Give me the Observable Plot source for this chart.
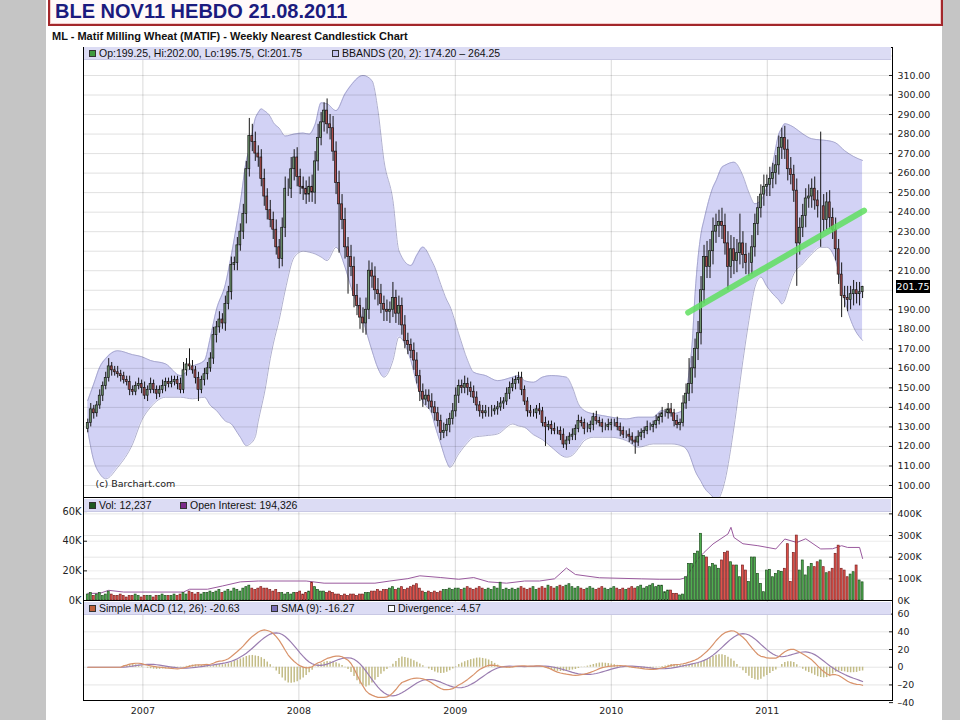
<!DOCTYPE html>
<html><head><meta charset="utf-8">
<script src="https://cdn.jsdelivr.net/npm/d3@7"></script>
<script src="https://cdn.jsdelivr.net/npm/@observablehq/plot@0.6"></script>
<style>
body{margin:0;background:#fff;}
#page{position:relative;width:960px;height:720px;overflow:hidden;background:#fff;font-family:"Liberation Sans",Arial,sans-serif;}
.abs{position:absolute;}
</style></head>
<body><div id="page"></div>
<script>
// ---------- DATA ----------
const titleText = "BLE NOV11 HEBDO 21.08.2011";
const subtitleText = "ML - Matif Milling Wheat (MATIF) - Weekly Nearest Candlestick Chart";
const firstWeek = Date.UTC(2006, 7, 25);        // first weekly candle
const firstOpen = 129;
// weekly closes, one per week
const closes = [
132,139,137,141,146,151,155,161,159,158,157,156,154,153,149,148,151,152,150,146,
149,152,149,147,149,151,153,152,153,154,152,149,159,162,161,159,155,149,154,157,
160,165,177,181,185,183,193,199,213,214,223,230,239,262,279,276,270,268,257,248,
241,236,231,222,216,232,252,252,262,268,258,253,252,249,253,250,266,278,286,292,
285,283,271,255,244,236,222,217,212,197,192,186,183,190,210,207,200,198,193,190,
189,190,196,188,192,182,174,172,169,164,156,148,144,146,143,140,137,133,127,128,
131,134,138,146,151,150,152,150,148,145,141,138,137,138,138,138,139,140,142,143,
147,150,152,154,155,149,143,138,137,137,139,138,132,130,131,129,128,128,126,121,
123,125,126,129,133,132,129,129,131,135,133,132,130,130,131,132,132,130,128,126,
126,125,123,122,125,127,128,130,130,131,133,135,137,137,139,137,133,131,132,142,
147,152,160,170,178,200,217,212,220,230,233,235,233,224,212,221,215,219,224,218,
214,214,222,234,242,249,253,254,257,260,264,273,278,272,262,259,251,224,232,238,
247,248,252,246,243,243,236,245,237,231,221,208,197,196,195,198,200,198,199,201.75];
// wick lengths above / below the body
const wickUp = [
2,3,2,2,3,2,3,4,2,2,3,2,2,2,3,2,2,3,2,3, 2,3,2,2,2,3,2,2,3,2,2,3,4,3,8,3,2,3,2,3,
3,3,4,3,4,3,4,3,4,3,4,4,5,4,9,6,5,4,4,5, 4,5,4,5,4,5,6,5,6,4,5,4,5,4,5,6,5,7,5,4,
6,5,6,5,6,5,6,5,6,5,6,4,5,6,5,4,5,6,5,4, 5,4,8,4,5,4,5,4,3,4,4,3,4,3,3,4,3,3,3,4,
3,3,4,4,3,3,4,3,3,3,3,2,3,3,2,3,2,3,3,2, 3,3,3,2,3,3,2,2,3,2,2,3,2,3,2,2,3,2,2,3,
2,2,3,2,3,2,2,3,2,2,3,2,2,2,3,2,2,3,2,2, 2,3,2,2,3,2,2,3,2,2,3,2,3,2,3,3,2,3,2,4,
5,13,6,5,6,7,6,8,6,7,6,6,7,6,6,7,6,7,15,6, 6,5,6,5,6,5,6,5,6,5,5,6,5,6,5,6,5,6,5,6,
5,6,5,6,5,38,6,5,6,5,6,5,6,5,6,4,5,4,5,0.25];
const wickDown = [
2,2,3,2,2,3,2,2,3,2,2,3,2,2,3,2,2,2,3,2, 3,2,2,3,2,2,3,2,2,2,3,2,2,3,2,2,3,6,2,3,
3,2,3,4,3,3,4,3,4,3,4,3,4,5,4,5,4,5,4,5, 5,4,5,4,5,4,5,4,5,6,5,4,6,5,4,5,6,5,4,5,
5,6,5,6,25,5,6,19,5,6,5,6,5,6,5,6,5,6,5,6, 5,6,4,5,6,5,4,5,4,5,4,5,4,3,4,3,4,3,4,3,
3,4,3,3,4,3,3,4,3,3,3,3,3,2,3,3,2,3,2,3, 2,3,2,3,2,3,2,3,2,2,3,2,2,10,2,3,2,2,3,2,
3,2,2,3,2,2,3,2,2,3,2,2,3,2,2,3,2,2,3,2, 2,3,2,6,2,2,3,2,2,3,2,2,3,2,3,2,3,2,3,2,
3,4,5,5,6,6,7,6,6,7,6,6,7,6,12,6,7,6,6,7, 6,7,6,5,6,5,6,5,6,5,6,5,6,5,6,5,6,22,6,5,
6,5,6,5,6,21,6,5,6,5,6,5,11,5,6,5,6,5,6,3.25];
// weekly volume, thousands of contracts
const volumeK = [
4,5,3,4,5,3,4,6,4,3,3,4,3,2,3,3,4,3,2,3, 3,3,2,3,3,4,3,3,3,4,3,4,5,4,6,5,4,5,4,5,
5,6,5,6,7,5,6,7,6,8,7,6,8,9,10,8,7,8,9,8, 8,7,6,7,5,5,4,5,4,5,5,6,4,5,6,12,9,7,6,6,
5,6,5,4,4,3,4,3,4,4,3,4,4,5,5,6,6,7,6,7, 7,8,9,7,8,9,7,8,9,10,11,8,6,5,6,5,6,5,6,7,
7,8,7,8,8,7,8,9,8,7,8,9,8,7,8,7,9,8,12,7, 8,7,8,7,8,9,8,7,8,9,7,8,9,8,10,9,8,9,10,9,
10,11,9,8,9,8,7,8,9,8,7,8,9,8,7,8,9,8,7,8, 7,8,9,8,9,10,8,9,10,11,9,10,10,5.6,6.7,6.7,4.5,4.5,3.4,4,
15.7,24.7,24.7,31.5,33,45,30,29,22.5,24.7,23.6,21.4,27,32,33,25.8,23.6,23.6,15.7,23.6,
20.2,12.4,29,29,18,11.2,5.6,20.2,20.7,15.7,18,19.8,19.3,21.4,38,12.4,32,43.8,20.2,27,
16.9,22.5,24.7,22.5,25.8,27,22.5,18.4,19.1,21.4,31.5,37,21.4,20.2,15.7,17.5,19.1,23.6,13.5,12.237];
// open interest, thousands (week number, value)
const oiWeek = [0,4,7,12,21,32,34,40,45,51,57,73,79,96,101,107,111,118,124,129,134,140,146,151,156,160,163,171,185,191,198,200,204,206,209,214,215,216,219,224,230,233,237,240,245,249,252,254,258,259];
const oiK    = [33,33,47,39,39,39,52,52,67,86,90,90,80,80,90,101,114,106,98,106,86,80,90,90,100,150,120,105,100,98,98,106,193,222,261,307,338,291,262,253,238,284,268,285,238,239,253,245,245,194];
// Bollinger band (20, 2)
const bandWeek = [0,2,4,6,10,15,18,21,26,31,35,39,41,43,46,48,50,51,53,54,56,57,58,59,61,62,64,66,69,72,74,76,78,80,83,86,88,92,95,97,99,102,104,108,110,112,115,116,118,120,121,124,127,129,133,137,142,144,146,149,152,155,160,162,164,166,169,172,175,180,184,189,192,195,199,201,202,203,205,206,209,210,212,213,216,219,221,223,225,227,229,231,232,233,234,236,239,242,245,247,250,253,256,259];
const bandUpper = [143.5,152,160.6,165,169,167,166,164,162.3,156.3,161,164,176,190,203,218,235.7,245,266.4,272,288,291,292.9,292,289,286,283,279,280,280.5,280,285,296,295.5,292,300.6,305,310,307.4,292.1,266.5,246,220.3,212.7,218,222.1,215,211.8,203,195,192,177.7,164,158,156.3,153.7,155.5,156.3,153.7,152.9,155.5,156.3,155.5,150.3,141.8,138.4,136.7,135.8,135,134.1,135,135,138.4,136.7,138.4,158,172,198,229,236,252.8,256,263,264,265.6,258.6,250,244.3,246,253,265,280,283,285.3,285,283.5,280.1,277.6,277,276.7,275.5,271.5,268.5,266.5];
const bandLower = [128.1,112.8,106,103.4,109.3,121.3,133.3,140.1,145.2,145.2,144.4,145.2,141,138.4,133,131.5,127,124.7,120.4,121,125,133,140,146.9,165,172.5,185,200,216.9,220,219.5,218.6,217,215.2,222,211.8,201.6,184.5,169.1,160,155.5,164,176,164,152,143,136.7,131,121.3,112,109.3,116.2,122,124.7,125.5,126.4,131.5,130.5,129.8,126,123.5,119.6,114.5,115.5,119,123,124.7,124.7,124.7,123,119.6,121.3,121.3,121.3,120,116.2,112,107.6,102,99.1,94,92,97,102.5,129.8,164,184.5,201.6,206.7,202,198.1,195,193,195,199.8,208.4,213.5,218.6,222,222,215.2,194.7,181.1,174.3];
// hand-drawn green trend line
const trendWeek = [200.7, 259.5];
const trendPrice = [188.6, 240.8];
// axes
const priceTicks = [100,110,120,130,140,150,160,170,180,190,200,210,220,230,240,250,260,270,280,290,300,310];
const volTicks = [0,20,40,60];
const oiTicks = [0,100,200,300,400];
const macdTicks = [-40,-20,0,20,40,60];
const yearTicks = [2007,2008,2009,2010,2011];
const legendMain = ["Op:199.25, Hi:202.00, Lo:195.75, Cl:201.75", "BBANDS (20, 2): 174.20 \u2013 264.25"];
const legendVol = ["Vol: 12,237", "Open Interest: 194,326"];
const legendMacd = ["Simple MACD (12, 26): -20.63", "SMA (9): -16.27", "Divergence: -4.57"];

// ---------- BUILD ----------
const DAY = 864e5;
const weekDate = w => new Date(firstWeek + w * 7 * DAY);
const xDomain = [new Date(Date.UTC(2006, 7, 15)), new Date(Date.UTC(2011, 9, 21))];
const years = yearTicks.map(y => new Date(Date.UTC(y, 0, 1)));

const candles = closes.map((c, i) => {
  const o = i ? closes[i - 1] : firstOpen;
  const hi = Math.max(o, c), lo = Math.min(o, c);
  return {date: weekDate(i), open: o, close: c, bodyHi: hi, bodyLo: lo,
          high: hi + wickUp[i], low: lo - wickDown[i], up: c >= o, vol: volumeK[i]};
});
const bands = bandWeek.map((w, i) => ({date: weekDate(w), upper: bandUpper[i], lower: bandLower[i]}));
const oi = oiWeek.map((w, i) => ({date: weekDate(w), v: oiK[i]}));
const trend = trendWeek.map((w, i) => ({date: weekDate(w), p: trendPrice[i]}));

const sma = (arr, n, i) => { const s = Math.max(0, i - n + 1); let t = 0; for (let k = s; k <= i; k++) t += arr[k]; return t / (i - s + 1); };
const macdLine = closes.map((_, i) => sma(closes, 12, i) - sma(closes, 26, i));
const macdData = macdLine.map((m, i) => { const s = sma(macdLine, 9, i); return {date: weekDate(i), macd: m, signal: s, div: m - s}; });

const page = document.getElementById("page");
function addDiv(style, text) { const d = document.createElement("div"); d.className = "abs"; d.style.cssText = style; if (text != null) d.textContent = text; page.appendChild(d); return d; }
function place(el, top) { el.style.position = "absolute"; el.style.left = "0px"; el.style.top = top + "px"; page.appendChild(el); }

const axisFont = "DejaVu Sans, sans-serif";
const common = {width: 960, marginLeft: 83, marginRight: 68, marginTop: 0,
  x: {type: "utc", domain: xDomain, axis: null},
  style: {background: "transparent", fontFamily: axisFont, color: "#222", overflow: "visible"}};
const half = 2.3 * DAY;

// page decoration
addDiv("left:0;top:0;width:46px;height:720px;background:#c5c5c5");
addDiv("left:942px;top:0;width:18px;height:720px;background:#c5c5c5");
addDiv("left:48px;top:-20px;width:891px;height:42px;border:2px solid #a3272b;background:#fff9f9;box-shadow:inset 0 0 0 1px #f2caca");
addDiv("left:55px;top:1px;font:bold 20px 'Liberation Sans',Arial,sans-serif;line-height:20px;color:#1b1b7e;white-space:nowrap", titleText);
addDiv("left:52px;top:31px;font:bold 11px 'Liberation Sans',Arial,sans-serif;line-height:11px;color:#111;white-space:nowrap", subtitleText);

// main price panel
const main = Plot.plot({...common, height: 450, marginBottom: 0,
  y: {domain: [93.85, 324.34], axis: null},
  marks: [
    Plot.areaY(bands, {x: "date", y1: "lower", y2: "upper", fill: "#d2d2f5", curve: "monotone-x", clip: true}),
    Plot.line(bands, {x: "date", y: "upper", stroke: "#9c9cc4", strokeWidth: 0.8, curve: "monotone-x", clip: true}),
    Plot.line(bands, {x: "date", y: "lower", stroke: "#9c9cc4", strokeWidth: 0.8, curve: "monotone-x", clip: true}),
    Plot.ruleY(priceTicks.concat([320]), {stroke: "#000", strokeOpacity: 0.12}),
    Plot.ruleX(years, {stroke: "#000", strokeOpacity: 0.15}),
    Plot.ruleX(candles, {x: "date", y1: "low", y2: "high", stroke: "#151515", strokeWidth: 1}),
    Plot.rect(candles, {x1: d => new Date(+d.date - half), x2: d => new Date(+d.date + half),
      y1: "bodyLo", y2: "bodyHi", fill: d => d.up ? "#6f946f" : "#a84a4a", stroke: "#151515", strokeWidth: 0.7}),
    Plot.line(trend, {x: "date", y: "p", stroke: "#5fdf5f", strokeWidth: 6, strokeOpacity: 0.85, strokeLinecap: "round"}),
    Plot.axisY(priceTicks.filter(t => t !== 200), {anchor: "right", label: null, tickFormat: d => d.toFixed(2), tickSize: 4, tickPadding: 5, dx: -4, fontSize: 9.4}),
    Plot.text(["(c) Barchart.com"], {frameAnchor: "bottom-left", dx: 12, dy: -11, textAnchor: "start", fontSize: 9.5, fill: "#222"}),
    Plot.frame({stroke: "#000"})
  ]});
place(main, 47);

// open interest (right axis) + volume (left axis)
const oiPlot = Plot.plot({...common, height: 103, marginBottom: 0,
  y: {domain: [0, 475.6], axis: null},
  marks: [
    Plot.ruleY(oiTicks.slice(1), {stroke: "#000", strokeOpacity: 0.1}),
    Plot.ruleX(years, {stroke: "#000", strokeOpacity: 0.15}),
    Plot.line(oi, {x: "date", y: "v", stroke: "#9a5a9e", strokeWidth: 1}),
    Plot.axisY(oiTicks, {anchor: "right", label: null, tickFormat: d => d + "K", tickSize: 4, tickPadding: 5, dx: -4, fontSize: 9.4})
  ]});
place(oiPlot, 497);
const volPlot = Plot.plot({...common, height: 103, marginBottom: 0,
  y: {domain: [0, 69.5], axis: null},
  marks: [
    Plot.ruleY(volTicks.slice(1), {stroke: "#000", strokeOpacity: 0.08}),
    Plot.rect(candles, {x1: d => new Date(+d.date - half), x2: d => new Date(+d.date + half), y1: 0, y2: "vol",
      fill: d => d.up ? "#4fae4f" : "#e2524a", stroke: d => d.up ? "#1f4f1f" : "#7a2020", strokeWidth: 0.7}),
    Plot.axisY(volTicks, {anchor: "left", label: null, tickFormat: d => d + "K", tickSize: 4, tickPadding: 2, dx: 4, fontSize: 9.8}),
    Plot.frame({stroke: "#000"})
  ]});
place(volPlot, 497);

// MACD panel with date axis
const macdPlot = Plot.plot({...common, height: 120, marginBottom: 20,
  y: {domain: [-37.6, 75.4], axis: null},
  marks: [
    Plot.ruleY(macdTicks.filter(t => t > -40), {stroke: "#000", strokeOpacity: 0.1}),
    Plot.ruleX(years, {stroke: "#000", strokeOpacity: 0.15}),
    Plot.ruleX(macdData, {x: "date", y1: 0, y2: "div", stroke: "#c3bc86", strokeWidth: 1.5}),
    Plot.line(macdData, {x: "date", y: "signal", stroke: "#9a7db0", strokeWidth: 1.2}),
    Plot.line(macdData, {x: "date", y: "macd", stroke: "#d8926a", strokeWidth: 1.2}),
    Plot.axisY(macdTicks, {anchor: "right", label: null, tickFormat: d => d < 0 ? "\u2013" + (-d) : String(d), tickSize: 4, tickPadding: 5, dx: -4, fontSize: 9.4}),
    Plot.axisX(years, {anchor: "bottom", label: null, tickFormat: d => String(d.getUTCFullYear()), tickSize: 0, tickPadding: 7, fontSize: 9.5}),
    Plot.frame({stroke: "#000"})
  ]});
place(macdPlot, 600);

// legend bars
const legFont = "font:10.5px 'Liberation Sans',Arial,sans-serif;line-height:12px;color:#111;white-space:nowrap";
function legendBar(top, items) {
  addDiv(`left:84px;top:${top}px;width:807px;height:12px;background:#dcdcf4;border-bottom:1px solid #c8c8e4`);
  items.forEach(it => {
    addDiv(`left:${it.x}px;top:${top + 3}px;width:5px;height:5px;background:${it.color};border:1px solid #333`);
    addDiv(`left:${it.x + 10}px;top:${top}px;${legFont}`, it.text);
  });
}
legendBar(47, [{x: 89, color: "#3f9a3f", text: legendMain[0]}, {x: 332, color: "#c4c4f0", text: legendMain[1]}]);
legendBar(499, [{x: 89, color: "#1f5a1f", text: legendVol[0]}, {x: 180, color: "#7a2a8a", text: legendVol[1]}]);
legendBar(602, [{x: 89, color: "#c0603a", text: legendMacd[0]}, {x: 271, color: "#7a70b8", text: legendMacd[1]}, {x: 388, color: "#ffffff", text: legendMacd[2]}]);

// last price flag on the right axis
const lastY = main.scale("y").apply(closes[closes.length - 1]);
addDiv(`left:896px;top:${47 + lastY - 6.5}px;width:34px;height:13px;background:#000;color:#fff;font:9.4px ${axisFont};line-height:13px;text-align:center`, closes[closes.length - 1].toFixed(2));
</script>
</body></html>
